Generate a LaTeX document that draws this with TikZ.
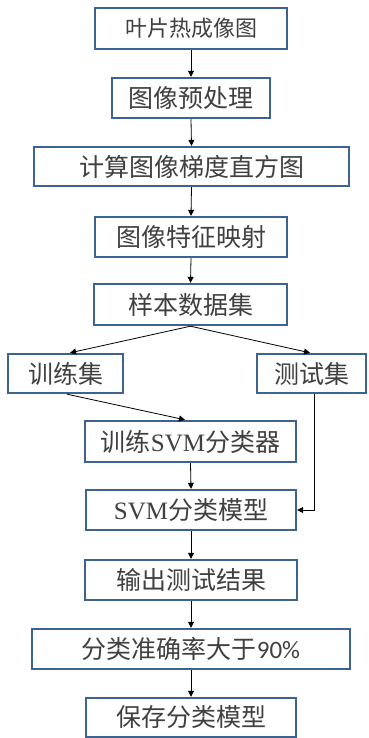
\documentclass[tikz,border=0pt]{standalone}
\usepackage{fontspec}
\setmainfont{Liberation Serif}
\newfontfamily\cjk{Noto Sans CJK SC}
\newfontfamily\carl{Carlito}
\usetikzlibrary{arrows.meta,calc}
\definecolor{boxblue}{HTML}{3D6391}
\tikzset{
  box/.style={draw=boxblue, line width=2.4pt, fill=white, inner sep=0pt,
    font=\fontsize{25}{25}\selectfont\cjk, text=black!75},
  conn/.style={line width=0.8pt, -{Triangle[width=6pt,length=6pt]}}
}
\begin{document}
\begin{tikzpicture}[x=1pt,y=-1pt]
\useasboundingbox[fill=white] (0,0) rectangle (368,738);
\node[box, minimum width=192pt, minimum height=41pt, font=\fontsize{22}{22}\selectfont\cjk] (b1) at (191,28.5) {叶片热成像图};
\node[box, minimum width=158pt, minimum height=40pt] (b2) at (191,98) {图像预处理};
\node[box, minimum width=315pt, minimum height=39pt] (b3) at (191.5,166.5) {计算图像梯度直方图};
\node[box, minimum width=192pt, minimum height=40pt] (b4) at (191,237) {图像特征映射};
\node[box, minimum width=193pt, minimum height=41pt] (b5) at (190.5,304.5) {样本数据集};
\node[box, minimum width=115pt, minimum height=39pt] (train) at (65.5,373.5) {训练集};
\node[box, minimum width=109pt, minimum height=39pt] (test) at (311.5,373.5) {测试集};
\node[box, minimum width=211pt, minimum height=41pt] (trsvm) at (190.5,441.5) {训练\rmfamily SVM\cjk 分类器};
\node[box, minimum width=210pt, minimum height=40pt] (model) at (191,510) {\rmfamily SVM\cjk 分类模型};
\node[box, minimum width=212pt, minimum height=40pt] (out) at (191,580) {输出测试结果};
\node[box, minimum width=318pt, minimum height=40pt] (acc) at (191,649) {分类准确率大于\carl 90\%};
\node[box, minimum width=210pt, minimum height=39pt] (save) at (191,717.5) {保存分类模型};

\draw[conn] (b1.south) -- (b2.north);
\draw[conn] (b2.south) -- (b3.north);
\draw[conn] (b3.south) -- (b4.north);
\draw[conn] (b4.south) -- (b5.north);
\draw[conn] (b5.south) -- ($(train.north)+(4.5,0)$);
\draw[conn] (b5.south) -- ($(test.north)+(-1.5,0)$);
\draw[conn] ($(train.south)+(1.5,0)$) -- ($(trsvm.north)+(-5.5,0)$);
\draw[conn] (trsvm.south) -- (model.north);
\draw[conn] ($(test.south)+(2.5,0)$) |- (model.east);
\draw[conn] (model.south) -- (out.north);
\draw[conn] (out.south) -- (acc.north);
\draw[conn] (acc.south) -- (save.north);
\end{tikzpicture}
\end{document}
